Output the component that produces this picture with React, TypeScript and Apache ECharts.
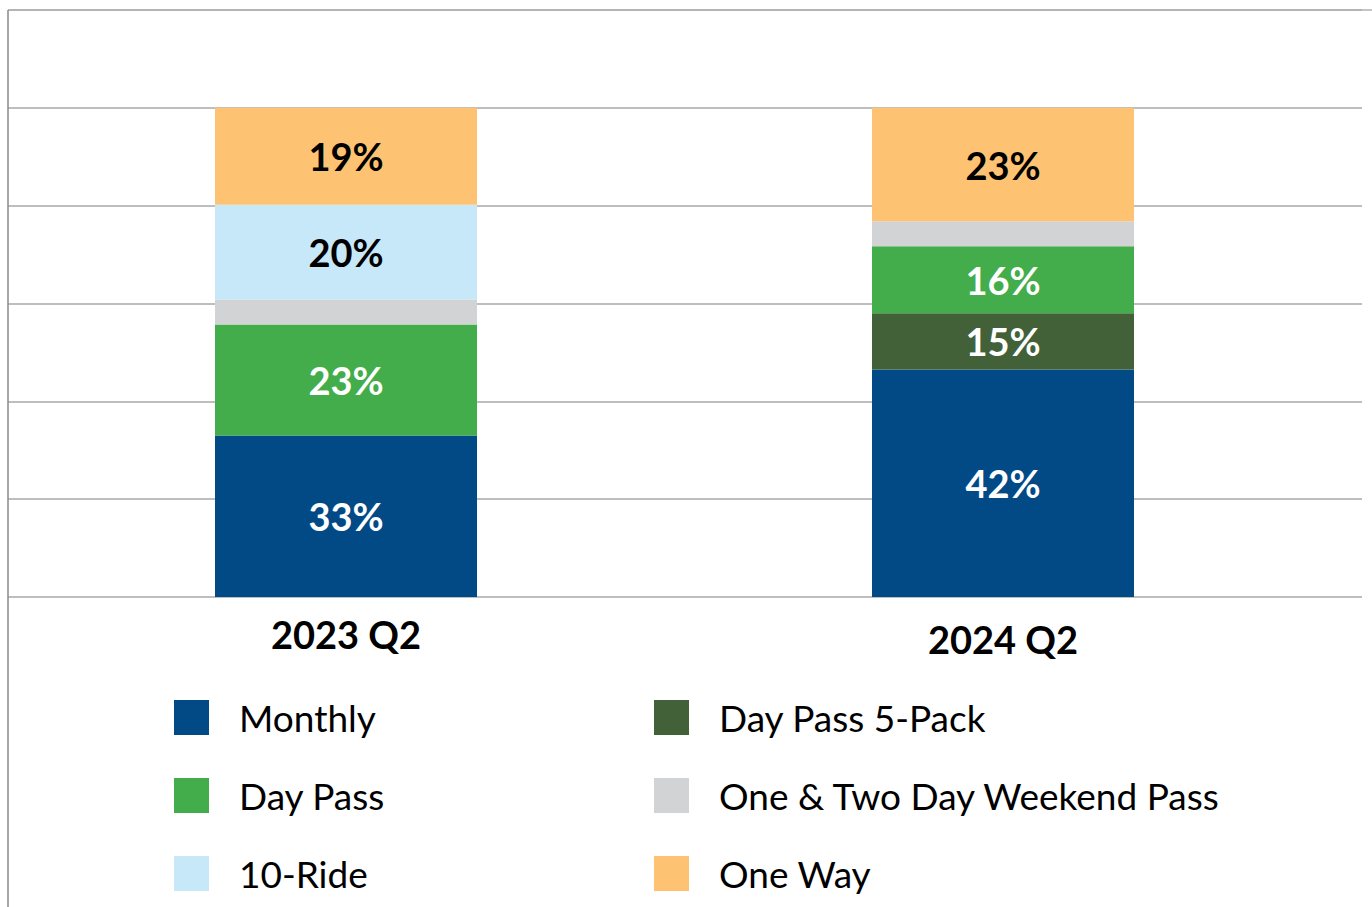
import React, { useEffect, useRef } from "react";
import * as echarts from "echarts";

const categories = ["2023 Q2", "2024 Q2"];

const monthly = [33.0, 46.5];
const dayPass5Pack = [0, 11.5];
const dayPass = [22.7, 13.7];
const weekendPass = [5.1, 5.1];
const tenRide = [19.4, 0];
const oneWay = [19.8, 23.2];

const monthlyLabels = ["33%", "42%"];
const dayPass5PackLabels = ["", "15%"];
const dayPassLabels = ["23%", "16%"];
const weekendPassLabels = ["", ""];
const tenRideLabels = ["20%", ""];
const oneWayLabels = ["19%", "23%"];

const yTicks = [0, 20, 40, 60, 80, 100, 120];

const FONT = "Lato";

export default function App() {
  const ref = useRef<HTMLDivElement>(null);

  useEffect(() => {
    if (!ref.current) return;
    const chart = echarts.init(ref.current, null, { renderer: "svg" });

    const seriesDefs = [
      { name: "Monthly", data: monthly, labels: monthlyLabels, color: "#024a86", text: "#ffffff" },
      { name: "Day Pass 5-Pack", data: dayPass5Pack, labels: dayPass5PackLabels, color: "#426139", text: "#ffffff" },
      { name: "Day Pass", data: dayPass, labels: dayPassLabels, color: "#42ad4a", text: "#ffffff" },
      { name: "One & Two Day Weekend Pass", data: weekendPass, labels: weekendPassLabels, color: "#d1d3d4", text: "#000000" },
      { name: "10-Ride", data: tenRide, labels: tenRideLabels, color: "#c7e8f8", text: "#000000" },
      { name: "One Way", data: oneWay, labels: oneWayLabels, color: "#fdc372", text: "#000000" },
    ];

    const yMin = yTicks[0];
    const yMax = yTicks[yTicks.length - 1];
    const yInterval = yTicks[1] - yTicks[0];

    const legendCommon = {
      orient: "vertical",
      padding: 0,
      itemWidth: 35,
      itemHeight: 35,
      itemGap: 41,
      icon: "rect",
      selectedMode: false,
      textStyle: {
        fontSize: 37,
        fontFamily: FONT,
        color: "#000000",
        padding: [0, 0, 0, 25],
        lineHeight: 35,
      },
    };

    chart.setOption({
      animation: false,
      backgroundColor: "#ffffff",
      grid: [
        { left: 8, right: 10, top: 10, bottom: 310 },
        { left: 17.5, right: 40.5, top: 10, bottom: 310 },
      ],
      xAxis: [
        { gridIndex: 0, type: "category", show: false, data: categories },
        {
          gridIndex: 1,
          type: "category",
          data: [
            { value: categories[0] },
            { value: categories[1], textStyle: { padding: [5, 0, 0, 0] } },
          ],
          axisLine: { show: false },
          axisTick: { show: false },
          axisLabel: {
            fontSize: 38,
            fontWeight: "bold",
            fontFamily: FONT,
            color: "#000000",
            margin: 18,
          },
        },
      ],
      yAxis: [
        {
          gridIndex: 0,
          type: "value",
          min: yMin,
          max: yMax,
          interval: yInterval,
          axisLabel: { show: false },
          axisLine: { show: false },
          axisTick: { show: false },
          splitLine: { show: true, lineStyle: { color: "#a8a8a8", width: 1.5 } },
        },
        {
          gridIndex: 1,
          type: "value",
          min: yMin,
          max: yMax,
          interval: yInterval,
          show: false,
          splitLine: { show: false },
        },
      ],
      legend: [
        {
          ...legendCommon,
          left: 174,
          top: 699,
          data: ["Monthly", "Day Pass", "10-Ride"],
        },
        {
          ...legendCommon,
          left: 654,
          top: 699,
          data: ["Day Pass 5-Pack", "One & Two Day Weekend Pass", "One Way"],
        },
      ],
      graphic: [
        {
          type: "line",
          shape: { x1: 8, y1: 10, x2: 1372, y2: 10 },
          style: { stroke: "#b0b0b0", lineWidth: 1.5 },
          z: 100,
        },
        {
          type: "line",
          shape: { x1: 8, y1: 10, x2: 8, y2: 907 },
          style: { stroke: "#8a8a8a", lineWidth: 1.5 },
          z: 100,
        },
      ],
      series: seriesDefs.map((s) => ({
        name: s.name,
        type: "bar",
        stack: "total",
        xAxisIndex: 1,
        yAxisIndex: 1,
        barWidth: 262,
        data: s.data,
        itemStyle: { color: s.color },
        label: {
          show: true,
          position: "inside",
          formatter: (p: any) => s.labels[p.dataIndex],
          color: s.text,
          fontSize: 38,
          fontWeight: "bold",
          fontFamily: FONT,
        },
      })),
    });

    return () => chart.dispose();
  }, []);

  return (
    <div
      ref={ref}
      style={{ position: "absolute", left: 0, top: 0, width: 1372, height: 907 }}
    />
  );
}
